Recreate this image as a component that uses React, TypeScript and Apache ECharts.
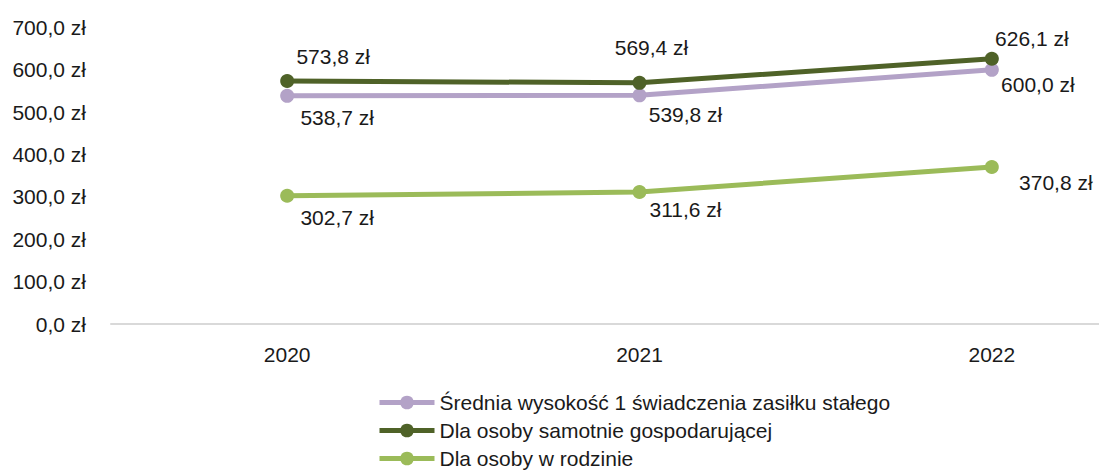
import React, { useEffect, useRef } from "react";
import * as echarts from "echarts";

const categories = ["2020", "2021", "2022"];
const seriesNames = [
  "Średnia wysokość 1 świadczenia zasiłku stałego",
  "Dla osoby samotnie gospodarującej",
  "Dla osoby w rodzinie",
];
const averageValues = [538.7, 539.8, 600.0];
const singleValues = [573.8, 569.4, 626.1];
const familyValues = [302.7, 311.6, 370.8];

const colors = ["#B3A2C7", "#4F6228", "#9BBB59"];
const labelOffsets = [
  [[50, 22], [46, 19], [46, 15]],
  [[46, -24], [12, -35], [40, -20]],
  [[50, 22], [46, 17], [64, 16]],
];
const legendTops = [392, 420, 448];

const FONT = "Liberation Sans";
const FS = 21;
const fmt = (v: number) => v.toFixed(1).replace(".", ",") + " zł";

export default function App() {
  const ref = useRef<HTMLDivElement>(null);
  useEffect(() => {
    if (!ref.current) return;
    const chart = echarts.init(ref.current, undefined, { renderer: "svg" });
    const all = [averageValues, singleValues, familyValues];
    chart.setOption({
      animation: false,
      textStyle: { fontFamily: FONT },
      grid: { left: 111, right: 0, top: 27.5, bottom: 146 },
      legend: seriesNames.map((name, i) => ({
        orient: "horizontal",
        left: 377,
        top: legendTops[i],
        padding: 0,
        itemWidth: 55,
        itemHeight: 17,
        itemGap: 8,
        data: [name],
        lineStyle: { width: 5 },
        textStyle: { fontFamily: FONT, fontSize: FS, color: "#1a1a1a", lineHeight: 20 },
      })),
      xAxis: {
        type: "category",
        data: categories,
        boundaryGap: true,
        axisLine: { lineStyle: { color: "#D9D9D9", width: 2 } },
        axisTick: { show: false },
        axisLabel: { fontFamily: FONT, fontSize: FS, color: "#1a1a1a", margin: 20 },
      },
      yAxis: {
        type: "value",
        min: 0,
        max: 700,
        interval: 100,
        axisLine: { show: false },
        axisTick: { show: false },
        splitLine: { show: false },
        axisLabel: {
          fontFamily: FONT,
          fontSize: FS,
          color: "#1a1a1a",
          margin: 25,
          formatter: (v: number) => fmt(v),
        },
      },
      series: all.map((vals, si) => ({
        name: seriesNames[si],
        type: "line",
        color: colors[si],
        symbol: "circle",
        symbolSize: 14,
        lineStyle: { width: 5, color: colors[si] },
        itemStyle: { color: colors[si] },
        data: vals.map((v, i) => ({
          value: v,
          label: { offset: labelOffsets[si][i] },
        })),
        label: {
          show: true,
          position: "inside",
          fontFamily: FONT,
          fontSize: FS,
          color: "#1a1a1a",
          formatter: (p: any) => fmt(p.value),
        },
      })),
    });
    return () => chart.dispose();
  }, []);
  return (
    <div
      style={{ position: "fixed", left: 0, top: 0, width: 1099, height: 470, overflow: "hidden", background: "#fff" }}
    >
      <div ref={ref} style={{ position: "absolute", left: 0, top: 0, width: 1168, height: 470 }} />
    </div>
  );
}
